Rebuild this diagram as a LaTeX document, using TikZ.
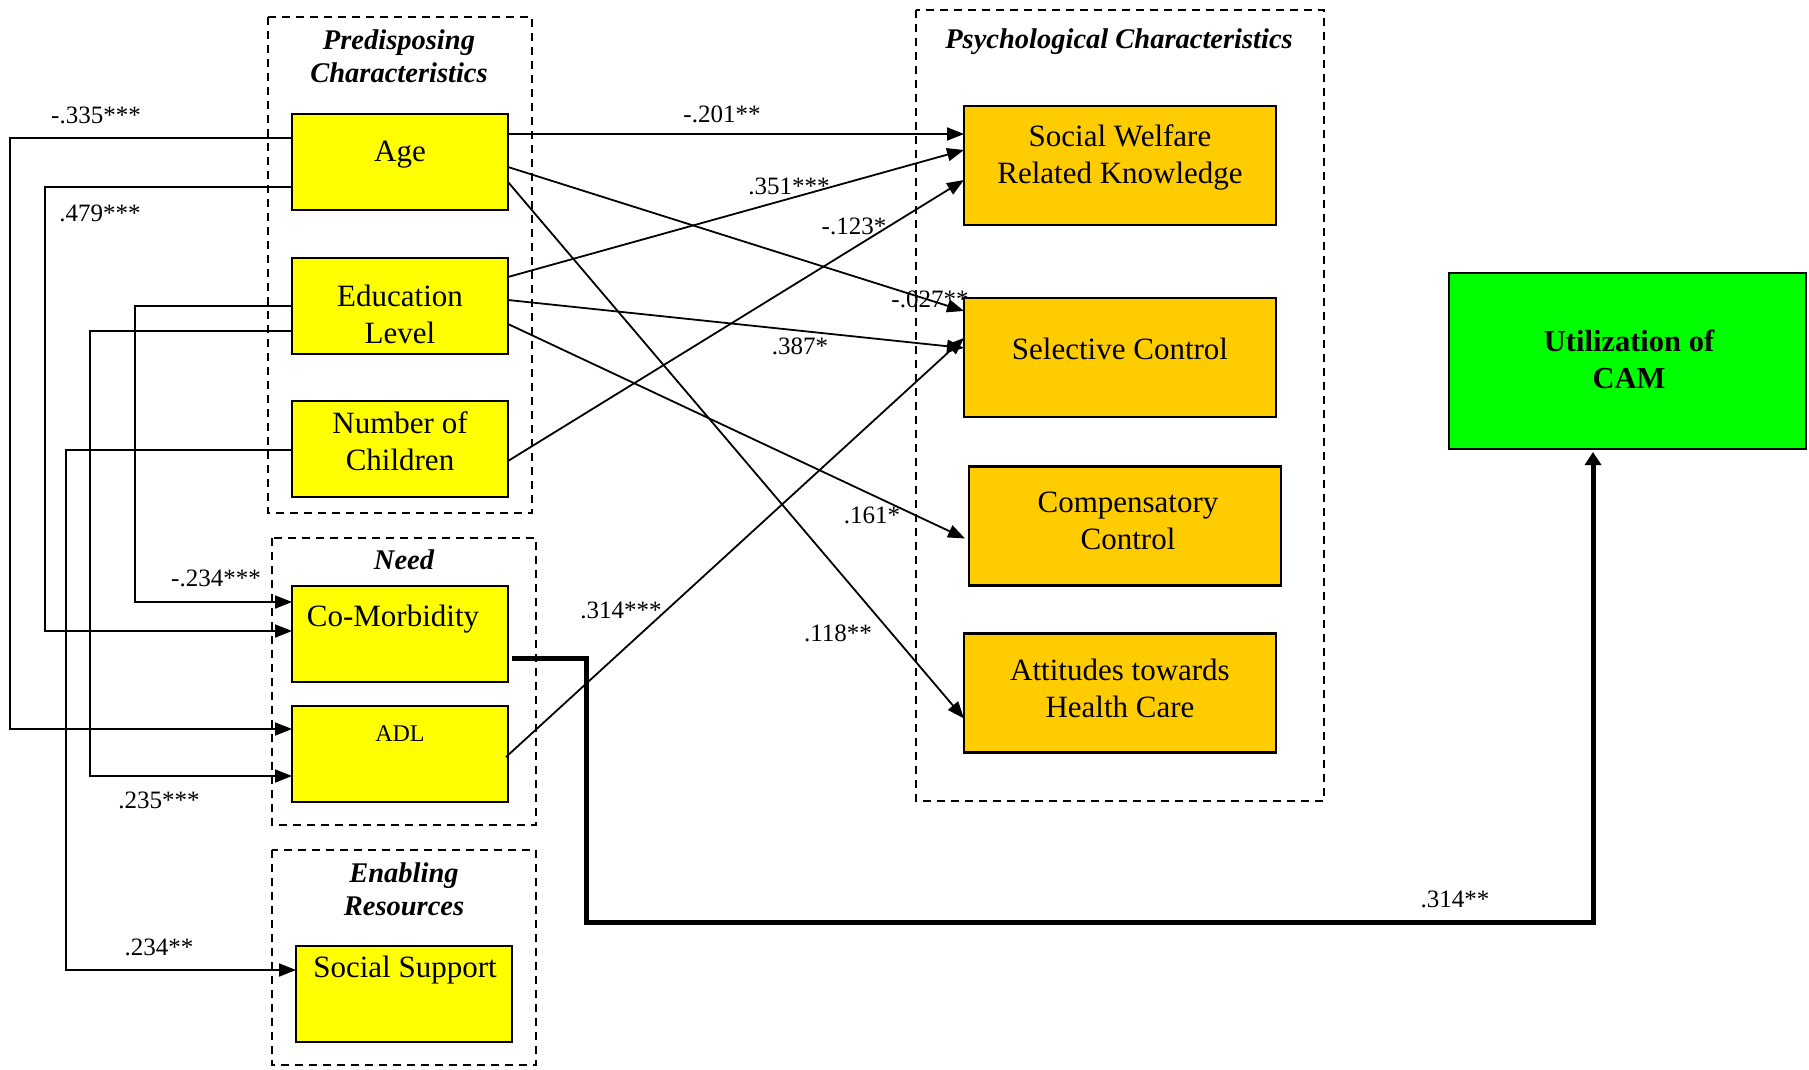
\documentclass[tikz,border=0pt]{standalone}
\usepackage{fontspec}
\setmainfont{Liberation Serif}
\usetikzlibrary{arrows.meta}
\definecolor{boxyellow}{HTML}{FFFF00}
\definecolor{boxorange}{HTML}{FFCC00}
\definecolor{boxgreen}{HTML}{00FF00}

\begin{document}
\begin{tikzpicture}[x=1pt,y=-1pt,
  group/.style={draw, line width=1.6pt, dash pattern=on 8pt off 6pt},
  ybox/.style={draw, line width=2.5pt, fill=boxyellow, inner sep=0pt, outer sep=0pt,
    minimum width=216pt, minimum height=96pt},
  obox/.style={draw, line width=2.5pt, fill=boxorange, inner sep=0pt, outer sep=0pt,
    minimum width=312pt, minimum height=119pt},
  gbox/.style={draw, line width=2.5pt, fill=boxgreen, inner sep=0pt, outer sep=0pt,
    minimum width=357pt, minimum height=176pt},
  boxtxt/.style={inner sep=0pt, align=center, font=\fontsize{31}{37}\selectfont},
  ttl/.style={inner sep=0pt, align=center, font=\fontsize{28.5}{33}\selectfont\bfseries\itshape},
  lbl/.style={inner sep=0pt, font=\fontsize{25}{28}\selectfont},
  arr/.style={line width=1.8pt, -{Triangle[length=17pt,width=13pt]}},
  thickarr/.style={line width=5pt, -{Triangle[length=13pt,width=16pt]}, shorten >=3pt}
]
\useasboundingbox (0,0) rectangle (1809,1070);

% group frames
\draw[group] (268,17) rectangle (532,513);
\draw[group] (272,538) rectangle (536,825);
\draw[group] (272,850) rectangle (536,1065);
\draw[group] (916,10) rectangle (1324,801);

% group titles
\node[ttl] (tpred) at (399,56) {Predisposing\\Characteristics};
\node[ttl] (tneed) at (404,560) {Need};
\node[ttl] (tenab) at (404,889) {Enabling\\Resources};
\node[ttl] (tpsych) at (1119,42) {Psychological Characteristics};

% predictor boxes
\node[ybox] (age) at (400,162) {};
\node[ybox] (edu) at (400,306) {};
\node[ybox] (num) at (400,449) {};
\node[ybox] (comorb) at (400,634) {};
\node[ybox] (adl) at (400,754) {};
\node[ybox] (soc) at (404,994) {};

\node[boxtxt] (agetxt) at (400,155) {Age};
\node[boxtxt] (edutxt) at (400,314) {Education\\Level};
\node[boxtxt] (numtxt) at (400,441) {Number of\\Children};
\node[boxtxt] (comorbtxt) at (393,619) {Co-Morbidity};
\node[boxtxt, font=\fontsize{24}{28}\selectfont] (adltxt) at (400,734) {ADL};
\node[boxtxt] (soctxt) at (405,970) {Social Support};

% psychological boxes
\node[obox] (swrk) at (1120,165.5) {};
\node[obox] (sel) at (1120,357.5) {};
\node[obox] (comp) at (1125,526) {};
\node[obox] (att) at (1120,693) {};

\node[boxtxt] (swrktxt) at (1120,157) {Social Welfare\\Related Knowledge};
\node[boxtxt] (seltxt) at (1120,349) {Selective Control};
\node[boxtxt] (comptxt) at (1128,521) {Compensatory\\Control};
\node[boxtxt] (atttxt) at (1120,688) {Attitudes towards\\Health Care};

% outcome
\node[gbox] (cam) at (1627.5,361) {};
\node[boxtxt, font=\fontsize{30.5}{37}\selectfont\bfseries] (camtxt) at (1629,359) {Utilization of\\CAM};

% left-side paths into need and enabling factors
\draw[arr] ([yshift=-24pt]age.north west) -- ++(-282,0) |- ([yshift=-23pt]adl.north west);
\draw[arr] ([yshift=-73pt]age.north west) -- ++(-247,0) |- ([yshift=-45pt]comorb.north west);
\draw[arr] ([yshift=-48pt]edu.north west) -- ++(-157,0) |- ([yshift=-16pt]comorb.north west);
\draw[arr] ([yshift=-73pt]edu.north west) -- ++(-202,0) |- ([yshift=-70pt]adl.north west);
\draw[arr] ([yshift=-49pt]num.north west) -- ++(-226,0) |- ([yshift=-24pt]soc.north west);

% paths into psychological characteristics
\draw[arr] ([yshift=-20pt]age.north east) -- ([yshift=-28pt]swrk.north west);
\draw[arr] ([yshift=-53pt]age.north east) -- ([yshift=-13pt]sel.north west);
\draw[arr] ([yshift=-68pt]age.north east) -- ([yshift=-85pt]att.north west);
\draw[arr] ([yshift=-19pt]edu.north east) -- ([yshift=-44pt]swrk.north west);
\draw[arr] ([yshift=-42pt]edu.north east) -- ([yshift=-50pt]sel.north west);
\draw[arr] ([yshift=-66pt]edu.north east) -- ([xshift=-4pt,yshift=-72pt]comp.north west);
\draw[arr] ([yshift=-60pt]num.north east) -- ([yshift=-74pt]swrk.north west);
\draw[arr] ([xshift=-2pt,yshift=-51pt]adl.north east) -- ([yshift=-40pt]sel.north west);

% co-morbidity to CAM
\draw[thickarr] ([xshift=4pt,yshift=-72pt]comorb.north east) -- ++(74,0) -- ++(0,264)
  -| ([xshift=-34.5pt]cam.south);

% coefficients
\node[lbl] (l1) at (96,115) {-.335***};
\node[lbl] (l2) at (100,213) {.479***};
\node[lbl] (l3) at (216,578) {-.234***};
\node[lbl] (l4) at (159,800) {.235***};
\node[lbl] (l5) at (159,947) {.234**};
\node[lbl] (l6) at (722,114) {-.201**};
\node[lbl] (l7) at (789,186) {.351***};
\node[lbl] (l8) at (854,226) {-.123*};
\node[lbl] (l9) at (930,299) {-.027**};
\node[lbl] (l10) at (800,346) {.387*};
\node[lbl] (l11) at (872,515) {.161*};
\node[lbl] (l12) at (621,610) {.314***};
\node[lbl] (l13) at (838,633) {.118**};
\node[lbl] (l14) at (1455,899) {.314**};
\end{tikzpicture}
\end{document}
